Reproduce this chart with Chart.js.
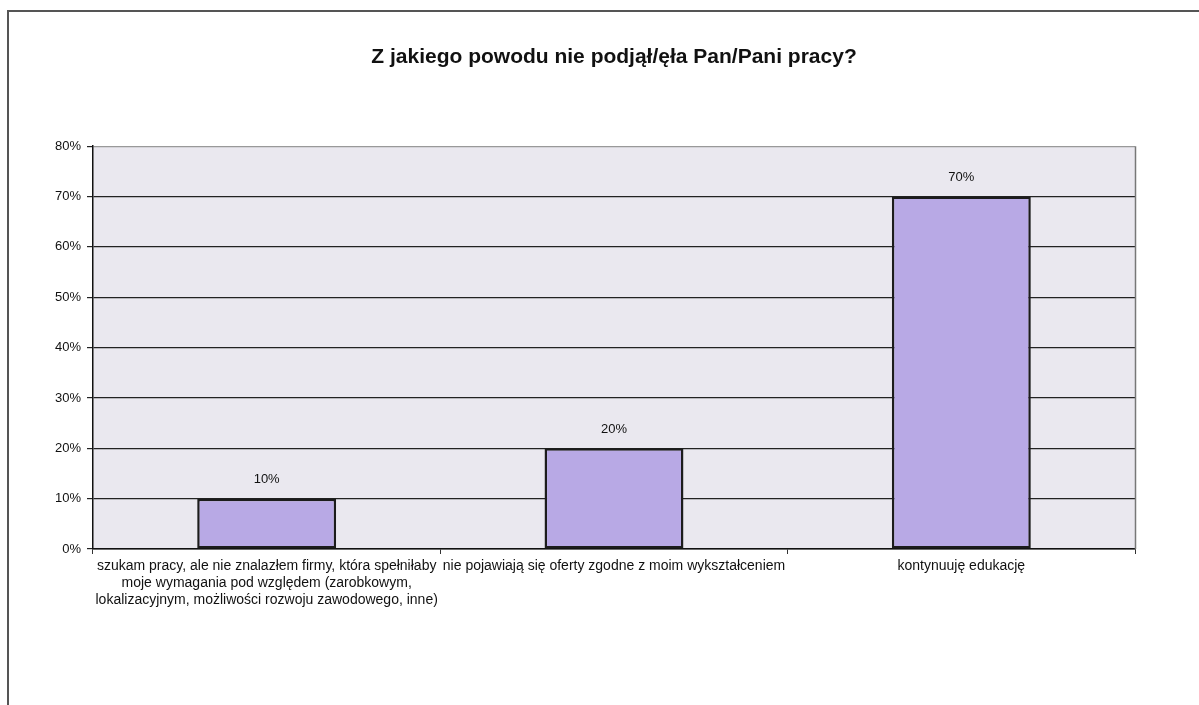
<!DOCTYPE html>
<html lang="pl">
<head>
<meta charset="utf-8">
<title>Z jakiego powodu nie podjął/ęła Pan/Pani pracy?</title>
<script src="https://cdn.jsdelivr.net/npm/chart.js@4.4.1/dist/chart.umd.min.js"></script>
<style>
    html, body { margin: 0; padding: 0; background: #fff; }
    #wrap { width: 1199px; height: 705px; position: relative; }
</style>
</head>
<body>
<div id="wrap"><canvas id="powodyChart" width="1199" height="705"></canvas></div>
<script>
// dane
const kategorie = [
    ['szukam pracy, ale nie znalazłem firmy, która spełniłaby', 'moje wymagania pod względem (zarobkowym,', 'lokalizacyjnym, możliwości rozwoju zawodowego, inne)'],
    'nie pojawiają się oferty zgodne z moim wykształceniem',
    'kontynuuję edukację'
];
const wartosci = [10, 20, 70]; // %
const tytul = 'Z jakiego powodu nie podjął/ęła Pan/Pani pracy?';
const osY = { min: 0, max: 80, krok: 10 };

const czcionka = '"Liberation Sans", Arial, sans-serif';

// tlo obszaru wykresu + ramka
const tloPlugin = {
    id: 'tlo',
    beforeDraw(chart) {
        const { ctx, chartArea: a } = chart;
        ctx.save();
        ctx.fillStyle = '#eae8ef';
        ctx.fillRect(a.left, a.top, a.right - a.left, a.bottom - a.top);
        ctx.restore();
    },
    afterDraw(chart) {
        const { ctx, chartArea: a } = chart;
        ctx.save();
        // prawa krawedz obszaru
        ctx.strokeStyle = '#777';
        ctx.lineWidth = 1.5;
        ctx.beginPath();
        ctx.moveTo(a.right + 0.5, a.top);
        ctx.lineTo(a.right + 0.5, a.bottom);
        ctx.stroke();
        // ramka calego wykresu
        ctx.strokeStyle = '#555';
        ctx.lineWidth = 2;
        ctx.beginPath();
        ctx.moveTo(8, chart.height);
        ctx.lineTo(8, 11);
        ctx.lineTo(chart.width, 11);
        ctx.stroke();
        ctx.restore();
    }
};

// etykiety nad slupkami
const etykietyPlugin = {
    id: 'etykiety',
    afterDatasetsDraw(chart) {
        const { ctx } = chart;
        const meta = chart.getDatasetMeta(0);
        ctx.save();
        ctx.font = '13px ' + czcionka;
        ctx.fillStyle = '#111';
        ctx.textAlign = 'center';
        ctx.textBaseline = 'middle';
        meta.data.forEach((bar, i) => {
            ctx.fillText(wartosci[i] + '%', bar.x, bar.y - 19);
        });
        ctx.restore();
    }
};

const ctx = document.getElementById('powodyChart').getContext('2d');

const config = {
    type: 'bar',
    data: {
        labels: kategorie,
        datasets: [{
            data: wartosci,
            backgroundColor: '#b8a9e5',
            borderColor: '#1c1c1c',
            borderWidth: 2.5,
            borderSkipped: false,
            barPercentage: 0.4,
            categoryPercentage: 1
        }]
    },
    options: {
        responsive: false,
        animation: false,
        layout: { padding: { left: 0, right: 64, top: 0, bottom: 0 } },
        plugins: {
            legend: { display: false },
            tooltip: { enabled: false },
            title: {
                display: true,
                text: tytul,
                fullSize: false,
                color: '#111',
                font: { family: czcionka, size: 21, weight: 'bold', lineHeight: 1.2 },
                padding: { top: 45, bottom: 76 }
            }
        },
        scales: {
            y: {
                min: osY.min,
                max: osY.max,
                afterFit(scale) { scale.width = 93; },
                ticks: {
                    stepSize: osY.krok,
                    color: '#111',
                    padding: 6,
                    font: { family: czcionka, size: 13 },
                    callback: v => v + '%'
                },
                grid: {
                    color: c => (c.tick && c.tick.value === osY.max) ? '#999' : '#222',
                    lineWidth: 1.2,
                    tickLength: 6,
                    tickColor: '#222'
                },
                border: { display: true, color: '#111', width: 1.5 }
            },
            x: {
                afterFit(scale) { scale.height = 156; },
                ticks: {
                    color: '#111',
                    padding: 4,
                    maxRotation: 0,
                    autoSkip: false,
                    font: { family: czcionka, size: 14, lineHeight: 1.2 }
                },
                grid: {
                    offset: true,
                    drawOnChartArea: false,
                    tickLength: 5,
                    tickColor: '#333'
                },
                border: { display: true, color: '#111', width: 1.5 }
            }
        }
    },
    plugins: [tloPlugin, etykietyPlugin]
};

const powodyChart = new Chart(ctx, config);
</script>
</body>
</html>
